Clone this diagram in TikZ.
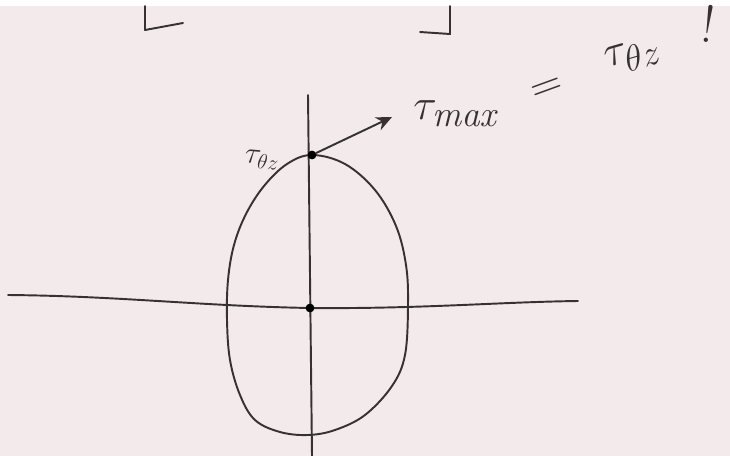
\documentclass[tikz,border=0pt]{standalone}
\usepackage{amsmath}
\usetikzlibrary{arrows.meta,positioning}
\definecolor{paper}{RGB}{243,235,235}
\definecolor{ink}{RGB}{55,50,50}

\begin{document}
\begin{tikzpicture}[
    x=0.02cm, y=-0.02cm,
    pen/.style={draw=ink, line width=1.1pt, line cap=round, line join=round},
    dot/.style={circle, fill=black, inner sep=0pt, minimum size=5pt},
    lbl/.style={text=ink, inner sep=0pt},
    arrow/.style={pen, -{Stealth[length=9pt, width=8pt]}}
]

% Paper
\fill[paper] (0,0) rectangle (730,456);
\fill[white] (0,0) rectangle (730,6);
\useasboundingbox (0,0) rectangle (730,456);

% Bracket ends at the top
\draw[pen] (145,6) -- (145,30) -- (183,23);
\draw[pen] (450,6) -- (450,34) -- (420,32);

% Axes
\draw[pen] (8,295) .. controls (120,296) and (200,306) .. (310,308)
           .. controls (420,309) and (500,302) .. (578,301);
\draw[pen] (308,95) -- (312,456);

% Section outline
\draw[pen] plot[smooth cycle, tension=0.6] coordinates {
    (312,155) (345,164) (375,190) (396,226) (406,265) (408,305)
    (405,355) (392,386) (365,415) (335,430) (308,435) (280,432)
    (255,420) (240,395) (230,360) (227,320) (228,280) (234,245)
    (246,214) (264,186) (287,164)};

% Points
\node[dot] (top) at (312,155) {};
\node[dot] (centre) at (310,308) {};

% Stress arrow
\coordinate (tip) at (392,117);
\draw[arrow] (top) -- (tip);

% Labels
\node[lbl, right=12pt of tip, yshift=2pt] (tmax) {\fontsize{31}{36}\selectfont$\tau_{\mathit{max}}$};
\node[lbl, rotate=-5] (ttz) at (262,160) {\fontsize{17}{20}\selectfont$\tau_{\theta z}$};
\node[lbl, rotate=20] (eq) at (548,90) {\fontsize{24}{28}\selectfont$=$};
\node[lbl, rotate=16] (ttz2) at (633,56) {\fontsize{32}{36}\selectfont$\tau_{\theta z}$};
\node[lbl, rotate=-8] (bang) at (709,24) {\fontsize{30}{34}\selectfont!};

\end{tikzpicture}
\end{document}
